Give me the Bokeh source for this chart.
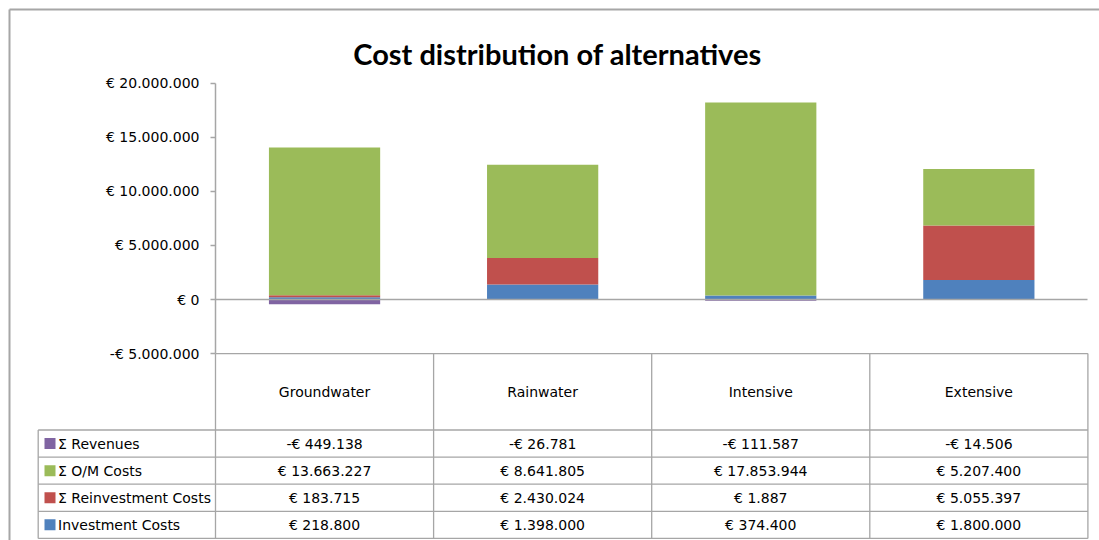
import numpy as np
from bokeh.plotting import figure
from bokeh.models import Range1d, FixedTicker, Label
from bokeh.core.properties import value
from bokeh.embed import file_html
from bokeh.resources import INLINE

# ---------------- data ----------------
categories = ["Groundwater", "Rainwater", "Intensive", "Extensive"]
investment_costs = [218800, 1398000, 374400, 1800000]
reinvestment_costs = [183715, 2430024, 1887, 5055397]
om_costs = [13663227, 8641805, 17853944, 5207400]
revenues = [-449138, -26781, -111587, -14506]

series_names = ["Σ Revenues", "Σ O/M Costs", "Σ Reinvestment Costs", "Investment Costs"]
series_colors = ["#8064A2", "#9BBB59", "#C0504D", "#4F81BD"]

y_ticks = [-5000000, 0, 5000000, 10000000, 15000000, 20000000]
y_tick_labels = ["-€ 5.000.000", "€ 0", "€ 5.000.000", "€ 10.000.000",
                 "€ 15.000.000", "€ 20.000.000"]

title_text = "Cost distribution of alternatives"

# ---------------- layout (canvas pixels) ----------------
W, H = 1099, 540
AXIS_X = 215.0            # canvas x of the value axis
CAT_W = 218.1             # width of one category column
ZERO_Y = 299.0            # canvas y (from top) of the zero line
PX_PER_EURO = 10.81 / 1e6
LEGEND_LEFT = 37.7        # table left edge
HEADER_TOP = ZERO_Y - y_ticks[0] * PX_PER_EURO
HEADER_BOTTOM = 429.5
ROW_H = 27.1
BORDER = 9.0
GRID = "#a6a6a6"
TXT_FONT = "DejaVu Sans"
TXT_SIZE = "14px"


def cx(px):
    return (px - AXIS_X) / CAT_W


n = len(categories)
p = figure(width=W, height=H, output_backend="svg", toolbar_location=None,
           x_range=Range1d(cx(0), cx(W)),
           y_range=Range1d((ZERO_Y - H) / PX_PER_EURO, ZERO_Y / PX_PER_EURO),
           min_border=0, title=None)
p.extra_y_ranges = {"tbl": Range1d(H, 0)}
p.background_fill_color = "white"
p.border_fill_color = "white"
p.outline_line_color = None
p.xgrid.visible = False
p.ygrid.visible = False

# outer chart border (left and top edges visible)
p.segment(x0=[cx(BORDER), cx(BORDER)], y0=[BORDER, BORDER],
          x1=[cx(W + 5), cx(BORDER)], y1=[BORDER, H + 5],
          line_color="#a6a6a6", line_width=2, y_range_name="tbl")

# ---------------- bars ----------------
xs = np.arange(n) + 0.5
inv = np.array(investment_costs, dtype=float)
rei = np.array(reinvestment_costs, dtype=float)
om = np.array(om_costs, dtype=float)
rev = np.array(revenues, dtype=float)
BW = 0.51
p.vbar(x=xs, width=BW, bottom=0, top=inv, fill_color=series_colors[3], line_color=None)
p.vbar(x=xs, width=BW, bottom=inv, top=inv + rei, fill_color=series_colors[2], line_color=None)
p.vbar(x=xs, width=BW, bottom=inv + rei, top=inv + rei + om, fill_color=series_colors[1], line_color=None)
p.vbar(x=xs, width=BW, bottom=0, top=rev, fill_color=series_colors[0], line_color=None)

# ---------------- axes ----------------
ya = p.yaxis[0]
ya.fixed_location = 0
ya.bounds = (y_ticks[0], y_ticks[-1])
ya.ticker = FixedTicker(ticks=y_ticks)
ya.major_label_overrides = dict(zip(y_ticks, y_tick_labels))
ya.minor_tick_line_color = None
ya.major_tick_out = 5
ya.major_tick_in = 0
ya.axis_line_color = GRID
ya.axis_line_width = 1.5
ya.major_tick_line_color = GRID
ya.major_tick_line_width = 1.5
ya.major_label_standoff = 11
ya.major_label_text_font = TXT_FONT
ya.major_label_text_font_size = TXT_SIZE
ya.major_label_text_color = "#000000"

xa = p.xaxis[0]
xa.fixed_location = 0
xa.bounds = (0, n)
xa.ticker = FixedTicker(ticks=[])
xa.minor_tick_line_color = None
xa.major_tick_line_color = None
xa.major_label_text_color = None
xa.axis_line_color = GRID
xa.axis_line_width = 1.5

# ---------------- data table ----------------
table_bottom = HEADER_BOTTOM + ROW_H * len(series_names)
lx = cx(LEGEND_LEFT)
hx0 = [0] + [lx] * (len(series_names) + 1)
hx1 = [n] * (len(series_names) + 2)
hy = [HEADER_TOP] + [HEADER_BOTTOM + k * ROW_H for k in range(len(series_names) + 1)]
p.segment(x0=hx0, y0=hy, x1=hx1, y1=hy, line_color=GRID, line_width=1.3, y_range_name="tbl")
vx = list(range(n + 1)) + [lx]
vy0 = [HEADER_TOP] * (n + 1) + [HEADER_BOTTOM]
vy1 = [table_bottom] * (n + 2)
p.segment(x0=vx, y0=vy0, x1=vx, y1=vy1, line_color=GRID, line_width=1.3, y_range_name="tbl")

p.text(x=xs, y=[(HEADER_TOP + HEADER_BOTTOM) / 2] * n, text=categories,
       text_font=value(TXT_FONT), text_font_size=TXT_SIZE, text_color="#000000",
       text_align="center", text_baseline="middle", y_range_name="tbl")


def euro(v):
    s = f"{abs(int(v)):,}".replace(",", ".")
    return ("-€ " if v < 0 else "€ ") + s


row_values = [revenues, om_costs, reinvestment_costs, investment_costs]
row_centers = [HEADER_BOTTOM + (k + 0.5) * ROW_H for k in range(len(series_names))]
for vals, yc in zip(row_values, row_centers):
    p.text(x=xs, y=[yc] * n, text=[euro(v) for v in vals],
           text_font=value(TXT_FONT), text_font_size=TXT_SIZE, text_color="#000000",
           text_align="center", text_baseline="middle", y_range_name="tbl")

p.scatter(x=[cx(49.5)] * len(series_names), y=row_centers, marker="square", size=11,
          fill_color=series_colors, line_color=None, y_range_name="tbl")
p.text(x=[cx(57.5)] * len(series_names), y=row_centers, text=series_names,
       text_font=value(TXT_FONT), text_font_size=TXT_SIZE, text_color="#000000",
       text_align="left", text_baseline="middle", y_range_name="tbl")

# ---------------- title ----------------
p.add_layout(Label(x=557, y=H - 52.5, x_units="screen", y_units="screen",
                   text=title_text, text_font="Lato", text_font_style="bold",
                   text_font_size="29px", text_color="#000000",
                   text_align="center", text_baseline="alphabetic"))

open("out.html", "w").write(file_html(p, INLINE))
